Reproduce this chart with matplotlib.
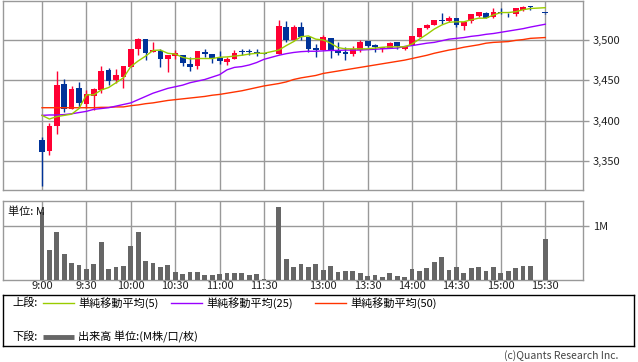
import numpy as np
import matplotlib
matplotlib.use("Agg")
from matplotlib import pyplot as plt

plt.rcParams['font.family'] = ['Noto Sans CJK JP', 'DejaVu Sans']

# 5分足 (None = 足なし)
opens = [3376, 3362, 3393, 3445.5, 3415, 3440.5, 3421, 3430.5, 3438, 3463,
         3450, 3454, 3466.5, 3489, 3501, 3485, 3486, 3476, 3480.5, 3481,
         3470, 3468, 3485, 3482.5, 3477.5, 3473, 3477, 3485, 3485, 3484,
         3483, None, 3482, 3516, 3500, 3516, 3504, 3490, 3487.5, 3502.5,
         3487.5, 3485, 3482, 3487.5, 3499, 3494, 3489, 3490, 3497.5, 3489,
         3494, 3504, 3515, 3518.5, 3523, 3523.5, 3527, 3517.5, 3523.5, 3530,
         3533.5, 3528.5, 3534, 3534, 3532.5, 3537, 3541, None, 3533]
highs = [3380, 3397.5, 3461, 3452, 3443, 3448, 3438, 3440.5, 3468, 3465,
         3464, 3468, 3489, 3502.5, 3501, 3497.5, 3489, 3481, 3487.5, 3481,
         3478.5, 3486, 3489, 3482.5, 3486, 3479, 3487.5, 3489, 3489, 3489,
         3483.5, None, 3525, 3523.5, 3518.5, 3522, 3504, 3495, 3506, 3502.5,
         3497.5, 3491, 3492.5, 3500, 3499, 3495, 3491, 3497.5, 3497.5, 3492,
         3505, 3515, 3520, 3525, 3533.5, 3530, 3527, 3522, 3532, 3535,
         3535, 3540, 3540, 3534, 3540, 3542, 3542, None, 3533.5]
lows = [3319, 3357, 3383, 3411, 3415, 3416, 3416, 3413, 3434, 3444,
        3447, 3441, 3466, 3481, 3475, 3485, 3466.5, 3460, 3476, 3468,
        3462, 3464, 3478.5, 3472, 3470, 3469, 3477, 3481, 3481, 3480,
        3482.5, None, 3482, 3497, 3500, 3500, 3485, 3479, 3487.5, 3477.5,
        3481, 3475, 3480, 3485, 3491, 3485, 3485, 3490, 3489, 3487.5,
        3494, 3504, 3514, 3518.5, 3520, 3522, 3516, 3512.5, 3520.5, 3528.5,
        3527, 3527, 3532, 3528.5, 3530, 3536, 3537, None, 3532.5]
closes = [3361.5, 3393, 3444, 3415, 3439, 3422, 3433, 3439, 3461.5, 3449,
          3456.5, 3468, 3489, 3501, 3484, 3487.5, 3476, 3481, 3483.5, 3471,
          3467, 3486, 3482, 3477.5, 3474, 3476.5, 3484, 3485, 3485, 3483.5,
          3483, None, 3517, 3500, 3516, 3504, 3489, 3487.5, 3504, 3487.5,
          3484, 3482, 3489, 3497.5, 3492.5, 3491, 3491, 3496, 3492.5, 3492,
          3505, 3515, 3518.5, 3525, 3523, 3527, 3518, 3522, 3532, 3535,
          3527, 3535, 3534, 3534, 3540, 3541, 3541, None, 3533]

ma5 = [3406.5, 3402, 3405, 3406.5, 3408, 3415, 3432, 3432, 3438, 3441,
       3447, 3453, 3467, 3474, 3480, 3487, 3487.5, 3483.5, 3482.5, 3478.5,
       3476.5, 3477, 3477, 3477, 3478.5, 3479, 3480, 3481, 3482.5, 3483.5,
       3483.5, None, 3487.5, 3493, 3498, 3504, 3505, 3501, 3500, 3496,
       3490.5, 3489, 3489, 3489, 3489, 3490, 3491, 3491.5, 3491.5, 3491.5,
       3495, 3501, 3507, 3513.5, 3518.5, 3522, 3522.5, 3522.5, 3525, 3527,
       3527, 3531, 3534, 3534, 3535, 3537.5, 3539, None, 3540]
ma25 = [3406.5, 3407, 3407, 3407.5, 3408.5, 3410, 3411.5, 3414, 3415, 3416,
        3418, 3420, 3422, 3426, 3430, 3434, 3437, 3440, 3442, 3444,
        3447, 3449, 3451, 3454, 3457, 3463, 3466, 3467, 3469, 3472,
        3476, None, 3481, 3483, 3484.5, 3485.5, 3486, 3486, 3486.5, 3487,
        3487, 3487.5, 3487.5, 3487.5, 3488, 3488.5, 3489, 3489.5, 3490, 3492,
        3493, 3494.5, 3496, 3497, 3499, 3501, 3502, 3503, 3504.5, 3505.5,
        3507, 3508, 3509.5, 3511, 3512.5, 3514, 3516, None, 3519.5]
ma50 = [3416, 3416, 3416, 3416, 3416, 3416, 3416, 3416, 3416.5, 3416.5,
        3417, 3417, 3418.5, 3419.5, 3421, 3422, 3423.5, 3425, 3426, 3427,
        3428, 3429, 3430, 3431.5, 3432.5, 3434, 3435.5, 3437, 3439, 3441,
        3443, None, 3446, 3448, 3451, 3453, 3454.5, 3456, 3458.5, 3460,
        3461.5, 3463, 3464.5, 3466, 3467.5, 3469, 3470.5, 3472, 3473.5, 3475,
        3477, 3479, 3481, 3483.5, 3485.5, 3487.5, 3489, 3491, 3492.5, 3494,
        3496, 3497, 3497.5, 3498, 3499.5, 3500.5, 3502, None, 3503]

# 出来高 (M)
volume = [1.27, 0.56, 0.89, 0.48, 0.32, 0.28, 0.20, 0.30, 0.71, 0.20,
          0.24, 0.26, 0.63, 0.89, 0.35, 0.32, 0.24, 0.28, 0.15, 0.11,
          0.15, 0.15, 0.09, 0.09, 0.11, 0.13, 0.13, 0.13, 0.09, 0.11,
          0.01, 0.0, 1.36, 0.39, 0.24, 0.30, 0.24, 0.30, 0.19, 0.26,
          0.15, 0.17, 0.17, 0.13, 0.07, 0.09, 0.06, 0.13, 0.07, 0.06,
          0.20, 0.17, 0.22, 0.34, 0.43, 0.19, 0.24, 0.13, 0.22, 0.24,
          0.17, 0.24, 0.13, 0.17, 0.22, 0.26, 0.26, 0.0, 0.76]

tick_pos = [0, 6, 12, 18, 24, 30, 38, 44, 50, 56, 62, 68]
tick_labels = ["9:00", "9:30", "10:00", "10:30", "11:00", "11:30",
               "13:00", "13:30", "14:00", "14:30", "15:00", "15:30"]
price_ticks = [3350, 3400, 3450, 3500]

RED = "#ff0033"
BLUE = "#003399"
GRID = "#999999"


def to_arr(v):
    return np.array([np.nan if x is None else x for x in v], dtype=float)


def style_axes(ax):
    for s in ax.spines.values():
        s.set_color(GRID)
        s.set_linewidth(1.0)
    ax.yaxis.tick_right()
    ax.tick_params(axis="y", colors=GRID, length=4, width=1,
                   labelcolor="#222222", labelsize=8, pad=3)
    ax.set_xlim(-5.27, 73.1)


o, h, l, c = to_arr(opens), to_arr(highs), to_arr(lows), to_arr(closes)
x = np.arange(len(o))

fig = plt.figure(figsize=(6.38, 3.62), dpi=100)
W, H = 638, 362

ax = fig.add_axes([3 / W, (H - 190) / H, 580 / W, 189 / H])
style_axes(ax)
ax.set_ylim(3314, 3548.3)
ax.set_yticks(price_ticks)
ax.set_yticklabels([f"{v:,}" for v in price_ticks])
ax.set_xticks(tick_pos)
ax.tick_params(axis="x", length=0, labelbottom=False)
ax.grid(True, color=GRID, linewidth=1.0)
ax.set_axisbelow(True)

valid = ~np.isnan(o)
up = valid & (c > o)
col = np.where(up, RED, BLUE)
ax.vlines(x[valid], l[valid], h[valid], colors=col[valid], linewidth=1.0, zorder=3)
body = np.maximum(np.abs(c - o), 1.2)
ax.bar(x[valid], body[valid], bottom=np.minimum(o, c)[valid], width=0.78,
       color=col[valid], linewidth=0, zorder=4)

for vals, colr in ((ma50, "#ff3300"), (ma25, "#9900ff"), (ma5, "#99cc00")):
    a = to_arr(vals)
    m = ~np.isnan(a)
    ax.plot(x[m], a[m], color=colr, linewidth=1.0, zorder=5)

# 出来高
axv = fig.add_axes([3 / W, (H - 280) / H, 580 / W, 79 / H])
style_axes(axv)
axv.set_ylim(0, 1.47)
axv.set_yticks([1.0])
axv.set_yticklabels(["1M"])
axv.set_xticks(tick_pos)
axv.set_xticklabels(tick_labels)
axv.tick_params(axis="x", length=0, labelsize=8, labelcolor="#222222", pad=1)
axv.grid(True, color=GRID, linewidth=1.0)
axv.set_axisbelow(True)
axv.bar(x, volume, width=0.64, color="#666666", linewidth=0, zorder=3)
axv.text(0.009, 0.86, "単位: M", transform=axv.transAxes, fontsize=8,
         color="#111111", va="center", ha="left", zorder=5)

# 凡例
axl = fig.add_axes([3 / W, (H - 346) / H, 631 / W, 51 / H])
axl.set_xlim(0, 631)
axl.set_ylim(51, 0)
axl.set_xticks([])
axl.set_yticks([])
for s in axl.spines.values():
    s.set_color("#000000")
    s.set_linewidth(1.0)
axl.text(9, 8, "上段:", fontsize=8, va="center", ha="left")
axl.text(9, 42, "下段:", fontsize=8, va="center", ha="left")
legend_items = [(40, "#99cc00", "単純移動平均(5)"),
                (168, "#9900ff", "単純移動平均(25)"),
                (312, "#ff3300", "単純移動平均(50)")]
for lx, colr, label in legend_items:
    axl.plot([lx, lx + 31], [8, 8], color=colr, linewidth=1.0)
    axl.text(lx + 35, 8, label, fontsize=8, va="center", ha="left")
axl.plot([40, 71], [42, 42], color="#666666", linewidth=3.5, solid_capstyle="butt")
axl.text(75, 42, "出来高 単位:(M株/口/枚)", fontsize=8, va="center", ha="left")

fig.text(618 / W, (H - 356) / H, "(c)Quants Research Inc.", fontsize=7.5,
         color="#444444", ha="right", va="center")

fig.savefig("out.png", dpi=100)
